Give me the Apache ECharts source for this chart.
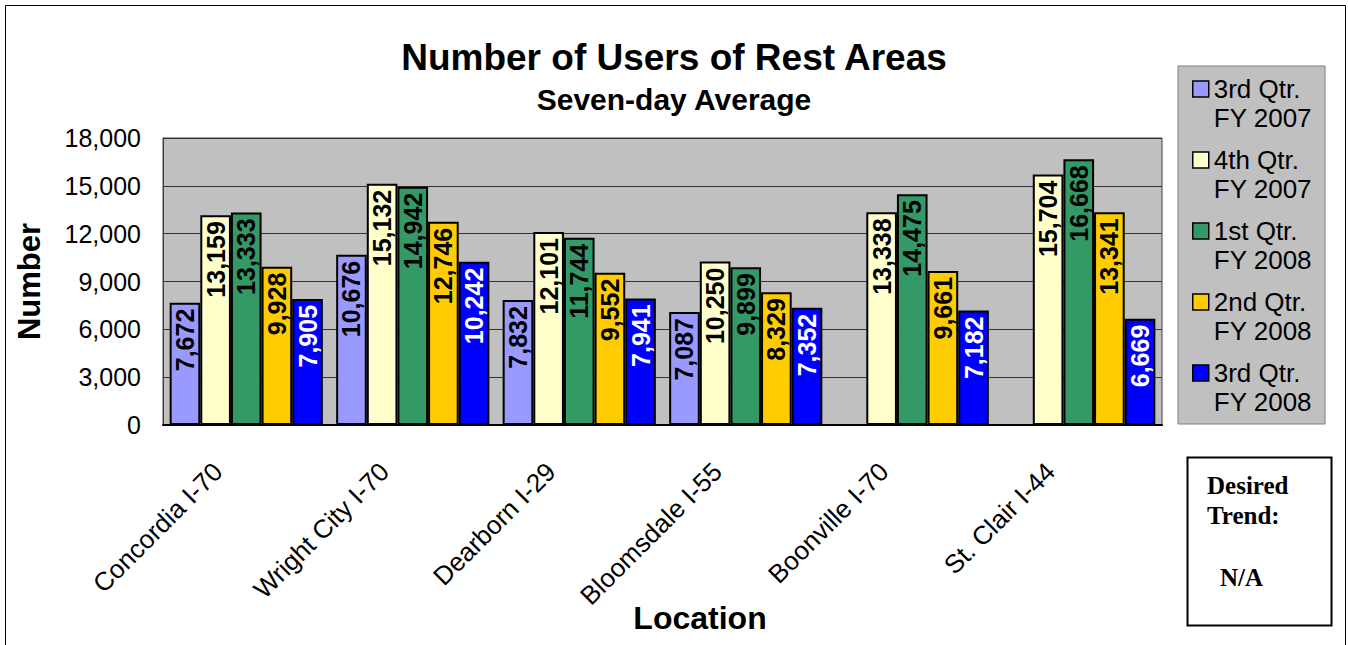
<!DOCTYPE html>
<html>
<head>
<meta charset="utf-8">
<script src="https://cdn.jsdelivr.net/npm/echarts@6/dist/echarts.min.js"></script>
<style>
  html, body { margin: 0; padding: 0; background: #fff; }
  #chart { width: 1348px; height: 645px; }
</style>
</head>
<body>
<div id="chart"></div>
<script>
// Rest area locations along the category axis
const categories = ['Concordia I-70', 'Wright City I-70', 'Dearborn I-29', 'Bloomsdale I-55', 'Boonville I-70', 'St. Clair I-44'];

// Quarter names shown in the legend
const seriesNames = ['3rd Qtr.\nFY 2007', '4th Qtr.\nFY 2007', '1st Qtr.\nFY 2008', '2nd Qtr.\nFY 2008', '3rd Qtr.\nFY 2008'];

// Seven-day average users per quarter (null = no count that quarter)
const q3FY2007 = [7672, 10676, 7832, 7087, null, null];
const q4FY2007 = [13159, 15132, 12101, 10250, 13338, 15704];
const q1FY2008 = [13333, 14942, 11744, 9899, 14475, 16668];
const q2FY2008 = [9928, 12746, 9552, 8329, 9661, 13341];
const q3FY2008 = [7905, 10242, 7941, 7352, 7182, 6669];

// Value axis ticks
const yMin = 0;
const yMax = 18000;
const yStep = 3000;

// Text of the side note box
const trendLines = ['Desired', 'Trend:', 'N/A'];

const seriesValues = [q3FY2007, q4FY2007, q1FY2008, q2FY2008, q3FY2008];
const seriesColors = ['#9999FF', '#FFFFCC', '#339966', '#FFCC00', '#0000FF'];
const labelColors = ['#000', '#000', '#000', '#000', '#fff'];

const FONT = '"Liberation Sans", Arial, sans-serif';
const SERIF = '"Liberation Serif", "Times New Roman", serif';
const fmt = v => Number(v).toLocaleString('en-US');

const chart = echarts.init(document.getElementById('chart'), null, { renderer: 'svg' });

chart.setOption({
  backgroundColor: '#fff',
  animation: false,
  title: {
    text: 'Number of Users of Rest Areas',
    subtext: 'Seven-day Average',
    left: 'center',
    top: 34,
    itemGap: 8,
    textStyle: { fontFamily: FONT, fontSize: 37, fontWeight: 'bold', color: '#000' },
    subtextStyle: { fontFamily: FONT, fontSize: 30, fontWeight: 'bold', color: '#000' }
  },
  legend: {
    orient: 'vertical',
    left: 1178,
    top: 66,
    padding: [8, 13, 8, 14],
    backgroundColor: '#c0c0c0',
    borderColor: '#808080',
    borderWidth: 1,
    itemWidth: 16,
    itemHeight: 44,
    itemGap: 13,
    // square swatch sitting beside the first line of each two-line name
    icon: 'path://M0,0H16V16H0Z M0,44L0,44',
    itemStyle: { borderColor: '#000', borderWidth: 1.5 },
    textStyle: { fontFamily: FONT, fontSize: 26, lineHeight: 29, color: '#000' },
    selectedMode: false
  },
  grid: {
    left: 163,
    right: 186,
    top: 138,
    bottom: 220,
    show: true,
    backgroundColor: '#c0c0c0',
    borderColor: '#404040',
    borderWidth: 1,
    containLabel: false,
    outerBoundsMode: 'none'
  },
  xAxis: {
    type: 'category',
    data: categories,
    name: 'Location',
    nameLocation: 'middle',
    nameGap: 177,
    nameMoveOverlap: false,
    nameTextStyle: { fontFamily: FONT, fontSize: 32, fontWeight: 'bold', color: '#000', padding: [0, 0, 0, 75] },
    axisLine: { show: true, lineStyle: { color: '#000', width: 2 } },
    axisTick: { show: false },
    axisLabel: {
      interval: 0,
      rotate: 45,
      margin: 14,
      padding: [0, 40, 0, 0],
      fontFamily: FONT,
      fontSize: 26,
      color: '#000'
    },
    splitLine: { show: false }
  },
  yAxis: {
    type: 'value',
    min: yMin,
    max: yMax,
    interval: yStep,
    name: 'Number',
    nameLocation: 'middle',
    nameGap: 118,
    nameRotate: 90,
    nameMoveOverlap: false,
    nameTextStyle: { fontFamily: FONT, fontSize: 31, fontWeight: 'bold', color: '#000' },
    axisLine: { show: true, lineStyle: { color: '#404040', width: 1 } },
    axisTick: { show: false },
    axisLabel: { margin: 22, fontFamily: FONT, fontSize: 25, color: '#000', formatter: fmt },
    splitLine: { show: true, lineStyle: { color: '#333', width: 1 } }
  },
  series: seriesValues.map((vals, i) => ({
    type: 'bar',
    name: seriesNames[i],
    data: vals,
    barGap: '0%',
    barCategoryGap: '8%',
    itemStyle: { color: seriesColors[i], borderColor: '#000', borderWidth: 2 },
    label: {
      show: true,
      position: 'insideTop',
      rotate: 90,
      align: 'right',
      verticalAlign: 'middle',
      distance: 6,
      fontFamily: FONT,
      fontSize: 25,
      fontWeight: 'bold',
      color: labelColors[i],
      formatter: p => fmt(p.value)
    }
  })),
  graphic: [
    {
      type: 'rect',
      silent: true,
      shape: { x: 5.5, y: 5.5, width: 1340, height: 700 },
      style: { fill: 'none', stroke: '#000', lineWidth: 1 }
    },
    {
      type: 'rect',
      silent: true,
      shape: { x: 1187.5, y: 457.5, width: 144, height: 168 },
      style: { fill: '#fff', stroke: '#000', lineWidth: 2 }
    },
    {
      type: 'text', silent: true, x: 1207, y: 485,
      style: { text: trendLines[0], font: 'bold 25px ' + SERIF, fill: '#000', verticalAlign: 'middle' }
    },
    {
      type: 'text', silent: true, x: 1207, y: 515,
      style: { text: trendLines[1], font: 'bold 25px ' + SERIF, fill: '#000', verticalAlign: 'middle' }
    },
    {
      type: 'text', silent: true, x: 1220, y: 577,
      style: { text: trendLines[2], font: 'bold 25px ' + SERIF, fill: '#000', verticalAlign: 'middle' }
    }
  ]
});
</script>
</body>
</html>
